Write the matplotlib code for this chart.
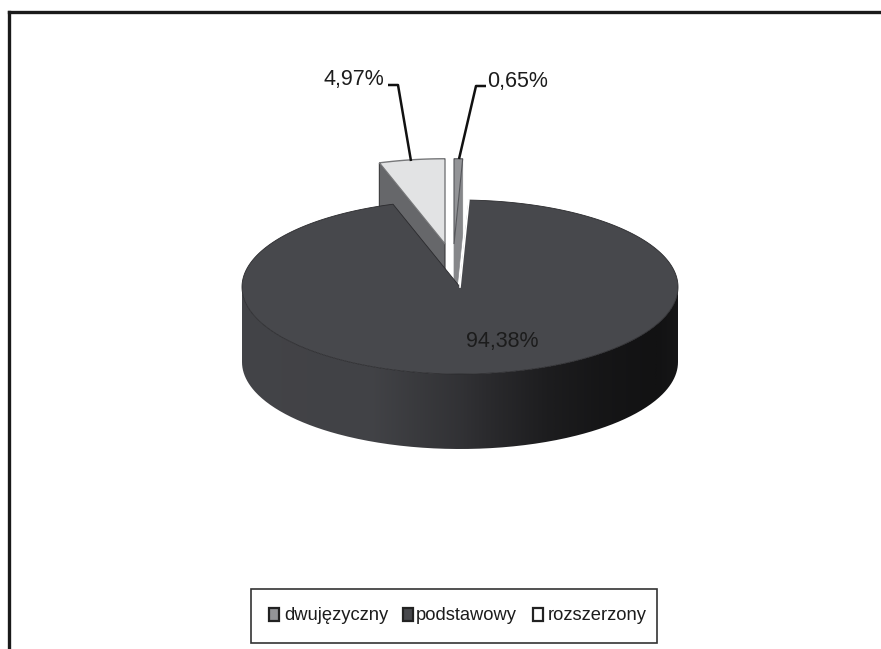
import numpy as np
import matplotlib
matplotlib.use('Agg')
import matplotlib.pyplot as plt
from matplotlib.colors import LinearSegmentedColormap
from matplotlib.patches import Polygon, Rectangle, PathPatch
from matplotlib.path import Path

categories = ['dwujęzyczny', 'podstawowy', 'rozszerzony']
shares = [0.65, 94.38, 4.97]
share_labels = ['0,65%', '94,38%', '4,97%']

plt.rcParams['font.family'] = ['Liberation Sans', 'DejaVu Sans']

fig = plt.figure(figsize=(8.81, 6.49), dpi=100)
ax = fig.add_axes([0, 0, 1, 1])
ax.set_xlim(0, 881)
ax.set_ylim(649, 0)
ax.axis('off')

# pie geometry, in picture pixels
cx, cy = 460, 287
rx, ry = 218, 87
depth = 75


def rim(a0, a1, x0, y0, k=1.0, n=200):
    t = np.radians(np.linspace(a0, a1, n))
    return np.column_stack([x0 + k * rx * np.sin(t), y0 - k * ry * np.cos(t)])


edges = np.cumsum([0] + shares) * 3.6

# rozszerzony, pulled out up and left
x0, y0 = 445, 244
k = 0.98
r = rim(edges[2], edges[3], x0, y0, k)
cut = np.array([r[0], [x0, y0], [x0, y0 + depth], r[0] + [0, depth]])
ax.add_patch(Polygon(cut, fc='#66676a', ec='#3a3a3c', lw=0.8, zorder=2))
ax.add_patch(Polygon(np.vstack([[x0, y0], r]), fc='#e2e3e4', ec='#77787a', lw=1, zorder=3))

# dwujezyczny, pulled out up
x0, y0 = 454, 244
r = rim(edges[0], edges[1], x0, y0, k)
cut = np.array([r[-1], [x0, y0], [x0, y0 + depth], r[-1] + [0, depth]])
ax.add_patch(Polygon(cut, fc='#86878a', ec='#86878a', lw=0.5, zorder=2))
ax.add_patch(Polygon(np.vstack([[x0, y0], r]), fc='#939497', ec='#55565a', lw=0.8, zorder=3))

# podstawowy: outer wall with a left-right gradient, then top face
low = rim(90, 270, cx, cy + depth, n=300)
up = rim(270, 90, cx, cy, n=300)
wall = np.vstack([low, up])
path = Path(np.vstack([wall, wall[0]]), closed=False)
clip = PathPatch(path, fc='none', ec='none', transform=ax.transData, zorder=4)
ax.add_patch(clip)
wall_cmap = LinearSegmentedColormap.from_list('wall', [(0, '#121213'), (0.5, '#2b2b2e'), (1, '#47484c')])
gx = [0.0, 0.3, 0.5, 0.7, 0.82, 0.95, 1.0]
gv = [0.92, 0.9, 0.62, 0.22, 0.08, 0.0, 0.08]
grad = np.interp(np.linspace(0, 1, 440), gx, gv).reshape(1, -1)
im = ax.imshow(grad, extent=[cx - rx, cx + rx, cy + ry + depth, cy - 10], cmap=wall_cmap,
               vmin=0, vmax=1, aspect='auto', zorder=4)
im.set_clip_path(clip)
ax.set_xlim(0, 881)
ax.set_ylim(649, 0)
r = rim(edges[1], edges[2], cx, cy, n=400)
ax.add_patch(Polygon(np.vstack([[cx, cy], r]), fc='#47484c', ec='#2a2a2d', lw=0.6, zorder=6))
# white sliver along the right cut
ax.plot([cx, r[0, 0]], [cy, r[0, 1]], color='white', lw=1.2, zorder=7)

# leader lines
ax.plot([388, 398, 411], [85, 85, 161], color='#111111', lw=1.8, zorder=8, solid_capstyle='butt')
ax.plot([486, 476, 459], [86, 86, 159], color='#111111', lw=1.8, zorder=8, solid_capstyle='butt')

# data labels
lab_pos = [(487, 81), (466, 341), (323, 80)]
for s, (x, y) in zip(share_labels, lab_pos):
    ax.text(x, y, s, fontsize=15.5, color='#1c1c1c', ha='left', va='center', zorder=9)

# legend, drawn by hand like the original box
ax.add_patch(Rectangle((251, 589), 406, 54, fc='white', ec='#333333', lw=1.2, zorder=8))
swatches = ['#939497', '#47484c', '#ffffff']
sw_x = [269, 403, 533]
txt_x = [284, 416, 548]
for c, lbl, sx, tx in zip(swatches, categories, sw_x, txt_x):
    ax.add_patch(Rectangle((sx, 608), 10, 13, fc=c, ec='#222222', lw=1.6, zorder=9))
    ax.text(tx, 615, lbl, fontsize=13.2, color='#1c1c1c', ha='left', va='center', zorder=9)

# frame of the scanned chart, only left and top are visible
ax.plot([8.5, 8.5], [649, 11.5], color='#1a1a1a', lw=2.4, zorder=10, solid_capstyle='projecting')
ax.plot([8.5, 881], [11.5, 11.5], color='#1a1a1a', lw=2.4, zorder=10)

fig.savefig('out.png', dpi=100)
